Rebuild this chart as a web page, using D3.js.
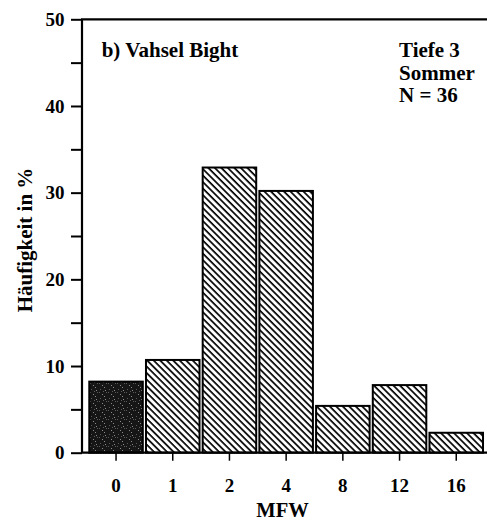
<!DOCTYPE html>
<html>
<head>
<meta charset="utf-8">
<script src="https://cdn.jsdelivr.net/npm/d3@7"></script>
<style>
  html, body { margin: 0; padding: 0; background: #fff; }
  svg { display: block; }
</style>
</head>
<body>
<svg id="chart" width="487" height="524"></svg>
<script>
// Frequency distribution of MFW classes, Vahsel Bight, depth 3, summer
const categories = ["0", "1", "2", "4", "8", "12", "16"];
const percentages = [8.2, 10.7, 32.9, 30.2, 5.4, 7.8, 2.3];
const yTickValues = [0, 5, 10, 15, 20, 25, 30, 35, 40, 45, 50];
const yLabelValues = [0, 10, 20, 30, 40, 50];
const panelTitle = "b) Vahsel Bight";
const infoLines = ["Tiefe 3", "Sommer", "N = 36"];
const xTitle = "MFW";
const yTitle = "Häufigkeit in %";

const FONT = '"Liberation Serif", "Times New Roman", Times, serif';
const svg = d3.select("#chart");

// Apply the serif bold face to a text selection
function serif(sel, size) {
  return sel.style("font-family", FONT)
    .style("font-weight", "bold")
    .style("font-size", size + "px")
    .style("fill", "#000");
}

const plotLeft = 82, plotTop = 19.3, plotBottom = 452.7, plotRight = 487;

const y = d3.scaleLinear().domain([0, 50]).range([plotBottom, plotTop]);
const x = d3.scaleBand()
  .domain(categories)
  .range([87.7, 484.6])
  .paddingInner(0.056)
  .paddingOuter(0.028);

// Fill patterns: diagonal hatching and dark stipple
const defs = svg.append("defs");
const hatch = defs.append("pattern")
  .attr("id", "hatch")
  .attr("patternUnits", "userSpaceOnUse")
  .attr("width", 4.6)
  .attr("height", 10)
  .attr("patternTransform", "rotate(-45)");
hatch.append("rect").attr("width", 4.6).attr("height", 10).attr("fill", "#fff");
hatch.append("line")
  .attr("x1", 1).attr("y1", 0).attr("x2", 1).attr("y2", 10)
  .attr("stroke", "#000").attr("stroke-width", 1.7);

const stip = defs.append("pattern")
  .attr("id", "stipple")
  .attr("patternUnits", "userSpaceOnUse")
  .attr("width", 9)
  .attr("height", 9);
stip.append("rect").attr("width", 9).attr("height", 9).attr("fill", "#161616");
[[1, 2], [5, 0], [7, 5], [3, 7], [0, 5], [6, 3], [4, 4]].forEach(([px, py], k) => {
  stip.append("rect")
    .attr("x", px).attr("y", py).attr("width", 1).attr("height", 1)
    .attr("fill", k % 2 ? "#8a8a8a" : "#5a5a5a");
});

// Bars
svg.append("g")
  .selectAll("rect")
  .data(percentages)
  .join("rect")
  .attr("x", (d, i) => x(categories[i]))
  .attr("y", d => y(d))
  .attr("width", x.bandwidth())
  .attr("height", d => y(0) - y(d))
  .attr("fill", (d, i) => i === 0 ? "url(#stipple)" : "url(#hatch)")
  .attr("stroke", "#000")
  .attr("stroke-width", 2);

// Y axis
const yAxis = d3.axisLeft(y)
  .tickValues(yTickValues)
  .tickSize(11)
  .tickPadding(6.5)
  .tickFormat(d => yLabelValues.includes(d) ? d : "");
const gy = svg.append("g").attr("transform", `translate(${plotLeft},0)`).call(yAxis);
gy.select(".domain").remove();
gy.selectAll(".tick line").attr("stroke", "#000").attr("stroke-width", 2);
serif(gy.selectAll(".tick text"), 19);

// X axis
const xAxis = d3.axisBottom(x).tickSize(8).tickPadding(17.5);
const gx = svg.append("g").attr("transform", `translate(0,${plotBottom})`).call(xAxis);
gx.select(".domain").remove();
gx.selectAll(".tick line").attr("stroke", "#000").attr("stroke-width", 1.5);
serif(gx.selectAll(".tick text"), 19);

// Frame lines: left axis, baseline, top border
svg.append("line").attr("x1", plotLeft).attr("y1", plotTop).attr("x2", plotLeft).attr("y2", plotBottom)
  .attr("stroke", "#000").attr("stroke-width", 2.2);
svg.append("line").attr("x1", plotLeft - 1).attr("y1", plotBottom).attr("x2", plotRight).attr("y2", plotBottom)
  .attr("stroke", "#000").attr("stroke-width", 2.2);
svg.append("line").attr("x1", plotLeft - 1).attr("y1", plotTop).attr("x2", plotRight).attr("y2", plotTop)
  .attr("stroke", "#000").attr("stroke-width", 2.2);

// Titles
serif(svg.append("text").attr("x", 101.7).attr("y", 57.3), 21).text(panelTitle);

serif(svg.append("g").selectAll("text")
  .data(infoLines)
  .join("text")
  .attr("x", 399)
  .attr("y", (d, i) => 57.3 + i * 22.5), 21)
  .text(d => d);

serif(svg.append("text")
  .attr("x", 282.5).attr("y", 517.3)
  .attr("text-anchor", "middle"), 20.5)
  .text(xTitle);

serif(svg.append("text")
  .attr("transform", "translate(31.5,240) rotate(-90)")
  .attr("text-anchor", "middle"), 21)
  .text(yTitle);
</script>
</body>
</html>
